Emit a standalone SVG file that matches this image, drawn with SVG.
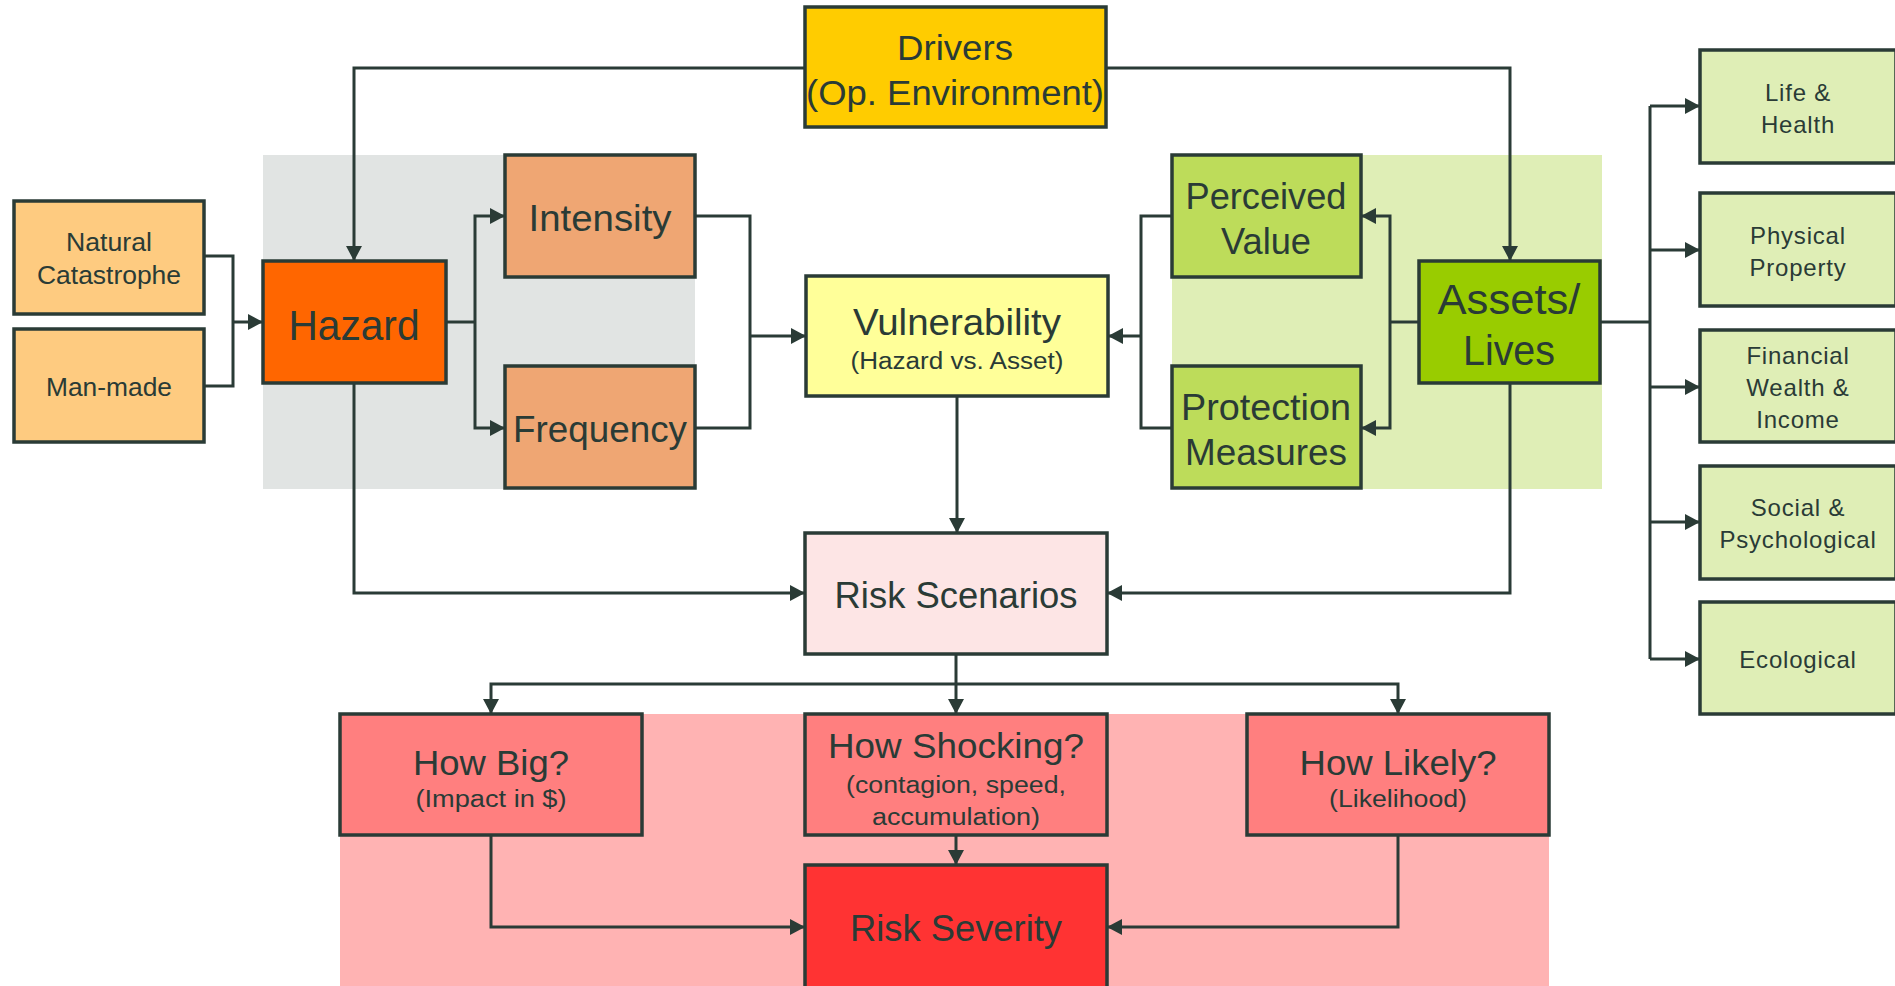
<svg xmlns="http://www.w3.org/2000/svg" width="1895" height="986" viewBox="0 0 1895 986">
<style>
.box{stroke:#2a3b36;stroke-width:3.5}
.t{font-family:"Liberation Sans",Arial,sans-serif;fill:#2a3b36;text-anchor:middle}
.r{font-family:"Liberation Sans",Arial,sans-serif;fill:#2a3b36;text-anchor:middle;font-size:24px;letter-spacing:0.8px}
.c{fill:none;stroke:#2a3b36;stroke-width:3}
.a{marker-end:url(#ah)}
</style>
<defs>
<marker id="ah" markerUnits="userSpaceOnUse" markerWidth="16" markerHeight="17" refX="15" refY="8" orient="auto">
<path d="M0,0 L15,8 L0,16 z" fill="#2a3b36"/>
</marker>
</defs>
<rect width="1895" height="986" fill="#ffffff"/>
<g id="backgrounds">
<rect x="263" y="155" width="432" height="334" fill="#e1e4e3"/>
<rect x="1172" y="155" width="430" height="334" fill="#dfeeb6"/>
<rect x="340" y="714" width="1209" height="272" fill="#ffb3b3"/>
</g>
<g id="connectors">
<path class="c a" d="M805,68 H354 V261"/>
<path class="c a" d="M1106,68 H1510 V261"/>
<path class="c" d="M204,256 H233 V386 H204"/>
<path class="c a" d="M233,322 H263"/>
<path class="c" d="M446,322 H475"/>
<path class="c a" d="M475,322 V216 H505"/>
<path class="c a" d="M475,322 V428 H505"/>
<path class="c" d="M695,216 H750 V428 H695"/>
<path class="c a" d="M750,336 H806"/>
<path class="c" d="M1172,216 H1141 V428 H1172"/>
<path class="c a" d="M1141,336 H1108"/>
<path class="c" d="M1419,322 H1390"/>
<path class="c a" d="M1390,322 V216 H1361"/>
<path class="c a" d="M1390,322 V428 H1361"/>
<path class="c a" d="M957,396 V533"/>
<path class="c a" d="M354,383 V593 H805"/>
<path class="c a" d="M1510,383 V593 H1107"/>
<path class="c a" d="M956,654 V714"/>
<path class="c a" d="M956,684 H491 V714"/>
<path class="c a" d="M956,684 H1398 V714"/>
<path class="c a" d="M956,835 V865"/>
<path class="c a" d="M491,835 V927 H805"/>
<path class="c a" d="M1398,835 V927 H1107"/>
<path class="c" d="M1600,322 H1650"/>
<path class="c" d="M1650,106 V659"/>
<path class="c a" d="M1650,106 H1700"/>
<path class="c a" d="M1650,250 H1700"/>
<path class="c a" d="M1650,387 H1700"/>
<path class="c a" d="M1650,522 H1700"/>
<path class="c a" d="M1650,659 H1700"/>
</g>
<g id="drivers">
<rect class="box" x="805" y="7" width="301" height="120" fill="#ffcc00"/>
<text class="t" font-size="35" x="955" y="60" textLength="116" lengthAdjust="spacingAndGlyphs">Drivers</text>
<text class="t" font-size="35" x="955" y="105" textLength="298" lengthAdjust="spacingAndGlyphs">(Op. Environment)</text>
</g>
<g id="natural-catastrophe">
<rect class="box" x="14" y="201" width="190" height="113" fill="#fecb80"/>
<text class="t" font-size="25" x="109" y="251" textLength="86" lengthAdjust="spacingAndGlyphs">Natural</text>
<text class="t" font-size="25" x="109" y="284" textLength="144" lengthAdjust="spacingAndGlyphs">Catastrophe</text>
</g>
<g id="man-made">
<rect class="box" x="14" y="329" width="190" height="113" fill="#fecb80"/>
<text class="t" font-size="25" x="109" y="396" textLength="126" lengthAdjust="spacingAndGlyphs">Man-made</text>
</g>
<g id="hazard">
<rect class="box" x="263" y="261" width="183" height="122" fill="#ff6600"/>
<text class="t" font-size="42" x="354" y="340" textLength="131" lengthAdjust="spacingAndGlyphs">Hazard</text>
</g>
<g id="intensity">
<rect class="box" x="505" y="155" width="190" height="122" fill="#efa673"/>
<text class="t" font-size="37" x="600" y="231" textLength="143" lengthAdjust="spacingAndGlyphs">Intensity</text>
</g>
<g id="frequency">
<rect class="box" x="505" y="366" width="190" height="122" fill="#efa673"/>
<text class="t" font-size="37" x="600" y="442" textLength="174" lengthAdjust="spacingAndGlyphs">Frequency</text>
</g>
<g id="vulnerability">
<rect class="box" x="806" y="276" width="302" height="120" fill="#ffff99"/>
<text class="t" font-size="36" x="957" y="335" textLength="208" lengthAdjust="spacingAndGlyphs">Vulnerability</text>
<text class="t" font-size="23" x="957" y="369" textLength="213" lengthAdjust="spacingAndGlyphs">(Hazard vs. Asset)</text>
</g>
<g id="perceived-value">
<rect class="box" x="1172" y="155" width="189" height="122" fill="#bddc5a"/>
<text class="t" font-size="37" x="1266" y="209" textLength="161" lengthAdjust="spacingAndGlyphs">Perceived</text>
<text class="t" font-size="37" x="1266" y="254" textLength="90" lengthAdjust="spacingAndGlyphs">Value</text>
</g>
<g id="protection-measures">
<rect class="box" x="1172" y="366" width="189" height="122" fill="#bddc5a"/>
<text class="t" font-size="37" x="1266" y="420" textLength="170" lengthAdjust="spacingAndGlyphs">Protection</text>
<text class="t" font-size="37" x="1266" y="465" textLength="162" lengthAdjust="spacingAndGlyphs">Measures</text>
</g>
<g id="assets-lives">
<rect class="box" x="1419" y="261" width="181" height="122" fill="#99cc00"/>
<text class="t" font-size="42" x="1509" y="314" textLength="143" lengthAdjust="spacingAndGlyphs">Assets/</text>
<text class="t" font-size="42" x="1509" y="365" textLength="92" lengthAdjust="spacingAndGlyphs">Lives</text>
</g>
<g id="life-health">
<rect class="box" x="1700" y="50" width="196" height="113" fill="#dfeeb6"/>
<text class="r" x="1798" y="101">Life &amp;</text>
<text class="r" x="1798" y="133">Health</text>
</g>
<g id="physical-property">
<rect class="box" x="1700" y="193" width="196" height="113" fill="#dfeeb6"/>
<text class="r" x="1798" y="244">Physical</text>
<text class="r" x="1798" y="276">Property</text>
</g>
<g id="financial">
<rect class="box" x="1700" y="330" width="196" height="112" fill="#dfeeb6"/>
<text class="r" x="1798" y="364">Financial</text>
<text class="r" x="1798" y="396">Wealth &amp;</text>
<text class="r" x="1798" y="428">Income</text>
</g>
<g id="social">
<rect class="box" x="1700" y="466" width="196" height="113" fill="#dfeeb6"/>
<text class="r" x="1798" y="516">Social &amp;</text>
<text class="r" x="1798" y="548">Psychological</text>
</g>
<g id="ecological">
<rect class="box" x="1700" y="602" width="196" height="112" fill="#dfeeb6"/>
<text class="r" x="1798" y="668">Ecological</text>
</g>
<g id="risk-scenarios">
<rect class="box" x="805" y="533" width="302" height="121" fill="#fde5e5"/>
<text class="t" font-size="36" x="956" y="608" textLength="243" lengthAdjust="spacingAndGlyphs">Risk Scenarios</text>
</g>
<g id="how-big">
<rect class="box" x="340" y="714" width="302" height="121" fill="#ff7f7f"/>
<text class="t" font-size="35" x="491" y="775" textLength="156" lengthAdjust="spacingAndGlyphs">How Big?</text>
<text class="t" font-size="23" x="491" y="807" textLength="151" lengthAdjust="spacingAndGlyphs">(Impact in $)</text>
</g>
<g id="how-shocking">
<rect class="box" x="805" y="714" width="302" height="121" fill="#ff7f7f"/>
<text class="t" font-size="35" x="956" y="758" textLength="256" lengthAdjust="spacingAndGlyphs">How Shocking?</text>
<text class="t" font-size="23" x="956" y="793" textLength="220" lengthAdjust="spacingAndGlyphs">(contagion, speed,</text>
<text class="t" font-size="23" x="956" y="825" textLength="168" lengthAdjust="spacingAndGlyphs">accumulation)</text>
</g>
<g id="how-likely">
<rect class="box" x="1247" y="714" width="302" height="121" fill="#ff7f7f"/>
<text class="t" font-size="35" x="1398" y="775" textLength="197" lengthAdjust="spacingAndGlyphs">How Likely?</text>
<text class="t" font-size="23" x="1398" y="807" textLength="138" lengthAdjust="spacingAndGlyphs">(Likelihood)</text>
</g>
<g id="risk-severity">
<rect class="box" x="805" y="865" width="302" height="125" fill="#ff3333"/>
<text class="t" font-size="36" x="956" y="941" textLength="212" lengthAdjust="spacingAndGlyphs">Risk Severity</text>
</g>
</svg>
